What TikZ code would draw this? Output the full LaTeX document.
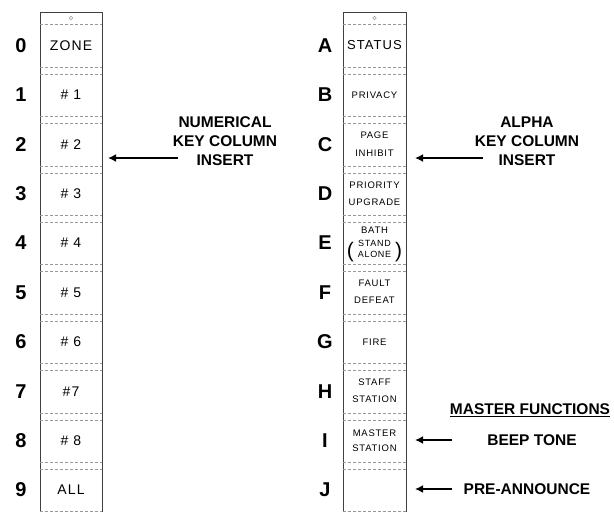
\documentclass[tikz,border=0pt]{standalone}
\usepackage{fontspec}
\setmainfont{Liberation Sans}
\newfontfamily\cellfont[LetterSpace=8]{Liberation Sans}
\usetikzlibrary{arrows.meta}
\definecolor{rule}{rgb}{0.25,0.25,0.25}
\definecolor{sep}{rgb}{0.6,0.6,0.6}

\begin{document}
\begin{tikzpicture} [
	x=1pt, y=-1pt,
	every node/.style = {
		inner sep=0pt,
		align=center
	},
	tag/.style = {font=\bfseries\fontsize{20}{20}\selectfont},
	bigcell/.style = {font=\cellfont\fontsize{14}{16}\selectfont},
	smallcell/.style = {font=\cellfont\fontsize{9.5}{17.5}\selectfont},
	note/.style = {font=\bfseries\fontsize{15.5}{19}\selectfont},
	insert/.style = {draw, line width=1.8pt, -{Latex[length=8pt,width=8pt]}},
	column/.style = {draw=rule, line width=0.9pt},
	divider/.style = {draw=sep, line width=0.6pt, dash pattern=on 3pt off 2pt}
]
\useasboundingbox (0,0) rectangle (614,512);

% the two key column inserts
\draw[column] (40,513) -- (40,12.7) -- (102,12.7) -- (102,513);
\draw[column] (343,513) -- (343,12.7) -- (406,12.7) -- (406,513);
\draw[sep, line width=0.5pt] (71,18) circle (1.8pt);
\draw[sep, line width=0.5pt] (374.5,18) circle (1.8pt);
\draw[divider] (40,24) -- (102,24);
\draw[divider] (343,24) -- (406,24);
\foreach \k in {0,...,8} {
	\draw[divider] (40,67+49.4*\k) -- (102,67+49.4*\k);
	\draw[divider] (40,74+49.4*\k) -- (102,74+49.4*\k);
	\draw[divider] (343,67+49.4*\k) -- (406,67+49.4*\k);
	\draw[divider] (343,74+49.4*\k) -- (406,74+49.4*\k);
}
\draw[divider] (40,511) -- (102,511);
\draw[divider] (343,511) -- (406,511);

% numerical column
\node[tag] (n0) at (21,45.5) {0};
\node[tag] (n1) at (21,94.9) {1};
\node[tag] (n2) at (21,144.3) {2};
\node[tag] (n3) at (21,193.7) {3};
\node[tag] (n4) at (21,243.1) {4};
\node[tag] (n5) at (21,292.5) {5};
\node[tag] (n6) at (21,341.9) {6};
\node[tag] (n7) at (21,391.3) {7};
\node[tag] (n8) at (21,440.7) {8};
\node[tag] (n9) at (21,490.1) {9};

\node[bigcell] (zone) at (71,45.5) {ZONE};
\node[bigcell] (z1) at (71,94.9) {\# 1};
\node[bigcell] (z2) at (71,144.3) {\# 2};
\node[bigcell] (z3) at (71,193.7) {\# 3};
\node[bigcell] (z4) at (71,243.1) {\# 4};
\node[bigcell] (z5) at (71,292.5) {\# 5};
\node[bigcell] (z6) at (71,341.9) {\# 6};
\node[bigcell] (z7) at (71,391.3) {\#7};
\node[bigcell] (z8) at (71,440.7) {\# 8};
\node[bigcell] (all) at (71,490.1) {ALL};

% alpha column
\node[tag] (la) at (325,45.5) {A};
\node[tag] (lb) at (325,94.9) {B};
\node[tag] (lc) at (325,144.3) {C};
\node[tag] (ld) at (325,193.7) {D};
\node[tag] (le) at (325,243.1) {E};
\node[tag] (lf) at (325,292.5) {F};
\node[tag] (lg) at (325,341.9) {G};
\node[tag] (lh) at (325,391.3) {H};
\node[tag] (li) at (325,440.7) {I};
\node[tag] (lj) at (325,490.1) {J};

\node[bigcell, font=\cellfont\fontsize{13}{16}\selectfont] (status) at (374.5,45.5) {STATUS};
\node[smallcell] (privacy) at (374.5,94.9) {PRIVACY};
\node[smallcell] (page) at (374.5,144.3) {PAGE\\INHIBIT};
\node[smallcell] (priority) at (374.5,193.7) {PRIORITY\\UPGRADE};
\node[smallcell] (bath) at (374.5,230) {BATH};
\node[smallcell, anchor=base] (alone) at (374.5,257) {{\fontsize{21}{21}\selectfont(}\hspace{4pt}{\fontsize{9}{9}\selectfont\shortstack{STAND\\[1pt]ALONE}}\hspace{4pt}{\fontsize{21}{21}\selectfont)}};
\node[smallcell] (fault) at (374.5,291.5) {FAULT\\DEFEAT};
\node[smallcell] (fire) at (374.5,341.9) {FIRE};
\node[smallcell] (staff) at (374.5,390.8) {STAFF\\STATION};
\node[smallcell, font=\cellfont\fontsize{9.5}{15}\selectfont] (master) at (374.5,440.5) {MASTER\\STATION};

% notes and pointers
\node[note] (numnote) at (225,141) {NUMERICAL\\KEY COLUMN\\INSERT};
\node[note] (alphanote) at (527,141) {ALPHA\\KEY COLUMN\\INSERT};
\node[note] (functions) at (530,410) {\underline{MASTER FUNCTIONS}};
\node[note] (beep) at (532,440) {BEEP TONE};
\node[note] (preann) at (527,489) {PRE-ANNOUNCE};

\coordinate (numtail) at (178,158);
\coordinate (numhead) at (108,158);
\coordinate (alphatail) at (483,158);
\coordinate (alphahead) at (415,158);
\coordinate (beeptail) at (452,440);
\coordinate (beephead) at (415,440);
\coordinate (pretail) at (452,489);
\coordinate (prehead) at (415,489);

\draw[insert] (numtail) -- (numhead);
\draw[insert] (alphatail) -- (alphahead);
\draw[insert] (beeptail) -- (beephead);
\draw[insert] (pretail) -- (prehead);

\end{tikzpicture}
\end{document}
